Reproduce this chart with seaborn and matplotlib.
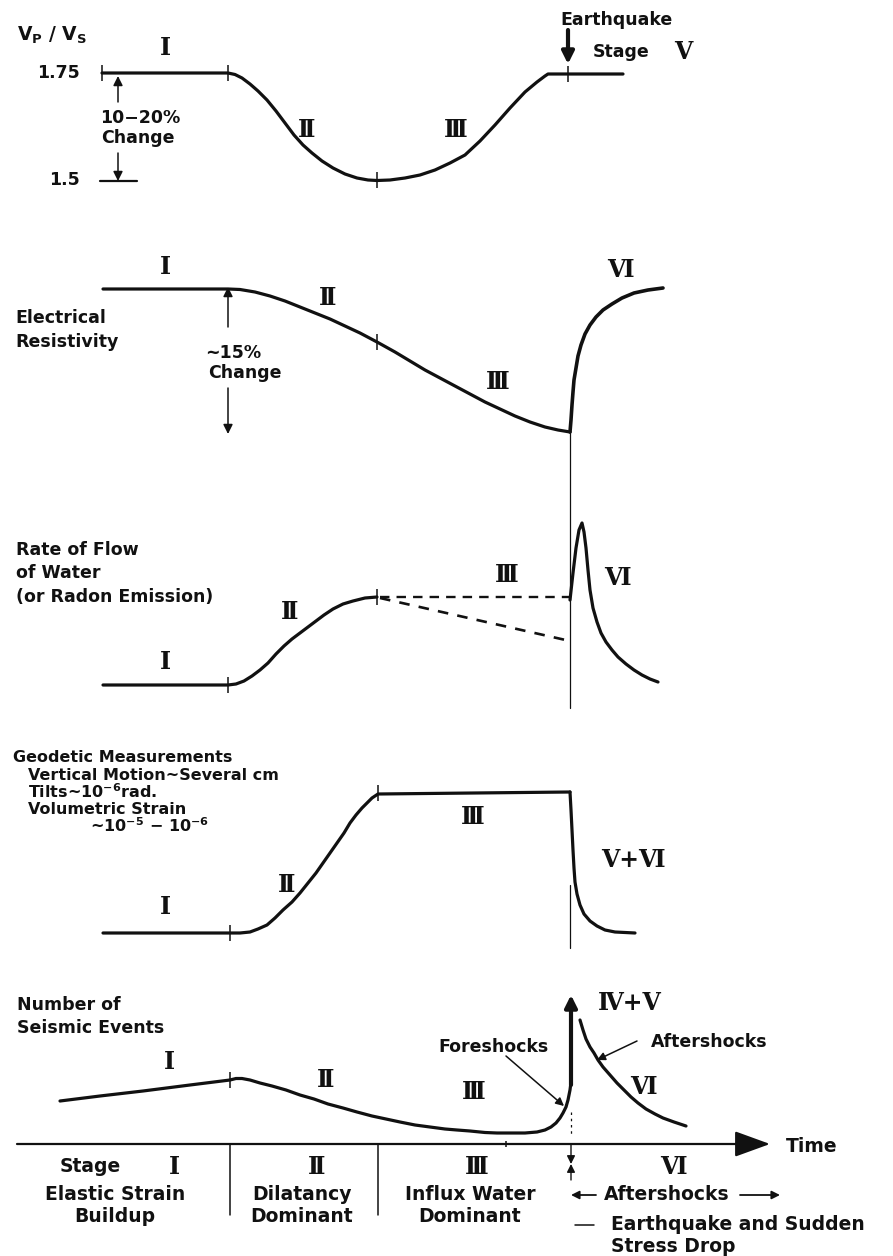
import matplotlib
matplotlib.use("Agg")
import matplotlib.pyplot as plt
import seaborn as sns

# ---------------------------------------------------------------
# Dilatancy-diffusion model: precursory changes through the
# stages of the earthquake cycle.  Time runs left to right on a
# common axis (diagram units); each curve is given in the same
# units, with larger y further down the sheet.
# ---------------------------------------------------------------

# Stage boundaries on the time axis
stage_bounds = [230, 378]
quake_t = 570

# Vp/Vs ratio
vp_t = [102, 228, 235, 242, 250, 258, 267, 276, 285, 294, 303, 312, 322, 333,
        345, 357, 368, 377, 390, 405, 420, 435, 450, 465, 480, 495, 510, 525,
        537, 545, 548, 568, 623]
vp_y = [73, 73, 74.5, 78, 84, 91, 100, 111, 123, 135, 145, 153, 161, 168,
        174, 178, 180, 180.5, 180, 178, 175, 170, 163, 155, 141, 125, 108, 92,
        82, 76, 74, 74, 74]

# Electrical resistivity
res_t = [103, 228, 240, 255, 270, 285, 300, 315, 330, 345, 360, 377, 395, 410,
         425, 440, 455, 470, 485, 500, 515, 530, 545, 558, 570]
res_y = [289, 289, 289.5, 292, 296, 301, 307, 313, 319, 326, 333, 342, 352, 361,
         370, 378, 386, 394, 402, 409, 416, 422, 427, 430, 432]
res_after_t = [570, 571, 572, 573, 574, 576, 578, 581, 585, 590, 596, 603, 612,
               622, 634, 648, 663]
res_after_y = [432, 420, 405, 392, 380, 368, 356, 345, 334, 325, 317, 310, 304,
               298, 293, 290, 288]

# Rate of flow of water (or radon emission)
flow_t = [103, 228, 236, 244, 252, 260, 268, 276, 284, 292, 300, 308, 316, 324,
          333, 343, 353, 365, 377]
flow_y = [685, 685, 684, 681, 676, 670, 663, 654, 646, 639, 633, 627, 621, 615,
          609, 604, 601, 598, 597]
flow_alt_flat_t = [380, 570]
flow_alt_flat_y = [597, 597]
flow_alt_fall_t = [380, 570]
flow_alt_fall_y = [598, 641]
flow_after_t = [570, 573, 576, 579, 582, 584, 586, 588, 590, 593, 597, 601, 606,
                612, 618, 626, 634, 642, 650, 658]
flow_after_y = [600, 573, 548, 530, 523, 532, 548, 570, 590, 608, 622, 633, 642,
                650, 657, 664, 670, 675, 679, 682]

# Geodetic measurements
geo_t = [103, 230, 240, 250, 258, 267, 275, 283, 292, 300, 308, 316, 323, 330,
         337, 344, 350, 356, 362, 367, 372, 378, 570]
geo_y = [933, 933, 933, 932, 929, 925, 918, 910, 902, 893, 883, 873, 863, 853,
         843, 833, 823, 815, 808, 803, 798, 794, 792]
geo_after_t = [570, 571, 572, 573, 574, 575, 577, 580, 584, 590, 597, 605, 615, 635]
geo_after_y = [792, 810, 830, 850, 868, 882, 894, 905, 914, 921, 926, 930, 932, 933]

# Number of seismic events
seis_t = [60, 100, 143, 190, 230, 236, 242, 250, 260, 272, 286, 300, 314, 328,
          343, 357, 372, 386, 400, 415, 430, 445, 457, 470, 485, 497, 510, 525,
          537, 545, 551, 556, 560, 563, 566, 568, 570, 571]
seis_y = [1101, 1096, 1091, 1085, 1080, 1078.5, 1078.5, 1080, 1083, 1086, 1090,
          1095, 1099, 1104, 1108, 1112, 1116, 1119, 1122, 1125, 1127, 1129, 1130,
          1131, 1132.5, 1133, 1133, 1133, 1132, 1130, 1127, 1123, 1118, 1113,
          1107, 1100, 1090, 1082]
after_t = [580, 583, 586, 590, 594, 598, 603, 610, 617, 624, 631, 638, 646, 655,
           663, 674, 686]
after_y = [1020, 1030, 1039, 1047, 1053, 1060, 1067, 1075, 1083, 1090, 1097, 1103,
           1109, 1114, 1118, 1122, 1126]

# Stage numerals placed along the curves: (t, y, numeral)
numerals = [
    (165, 48, "Ⅰ"), (307, 130, "Ⅱ"), (456, 130, "Ⅲ"),
    (165, 267, "Ⅰ"), (328, 298, "Ⅱ"), (498, 382, "Ⅲ"), (620, 270, "Ⅵ"),
    (165, 662, "Ⅰ"), (290, 612, "Ⅱ"), (507, 575, "Ⅲ"), (617, 578, "Ⅵ"),
    (165, 907, "Ⅰ"), (287, 885, "Ⅱ"), (473, 817, "Ⅲ"), (633, 860, "Ⅴ+Ⅵ"),
    (169, 1062, "Ⅰ"), (326, 1080, "Ⅱ"), (474, 1092, "Ⅲ"), (643, 1087, "Ⅵ"),
    (630, 1003, "Ⅳ+Ⅴ"),
    (174, 1167, "Ⅰ"), (317, 1167, "Ⅱ"), (477, 1167, "Ⅲ"), (673, 1167, "Ⅵ"),
    (683, 52, "Ⅴ"),
]

# Stage names under the time axis: (centre t, first line, second line)
stage_names = [
    (115, "Elastic Strain", "Buildup"),
    (302, "Dilatancy", "Dominant"),
    (470, "Influx Water", "Dominant"),
]

vpvs_ticks = ["1.75", "1.5"]

sns.set_theme(style="white")
plt.rcParams['font.family'] = ['DejaVu Sans']
plt.rcParams['font.weight'] = 'bold'
plt.rcParams['mathtext.default'] = 'regular'

fig = plt.figure(figsize=(8.93, 12.56), dpi=100)
ax = fig.add_axes([0, 0, 1, 1])
ax.set_xlim(0, 893)
ax.set_ylim(1256, 0)
ax.axis("off")

INK = "#111111"
LW = 2.3
TXT = 12.5


def curve(t, y, lw=LW, **kw):
    sns.lineplot(x=t, y=y, sort=False, estimator=None, color=INK, lw=lw,
                 ax=ax, legend=False, **kw)


def tick(t, y, h=8, lw=1.1):
    ax.plot([t, t], [y - h, y + h], color=INK, lw=lw, solid_capstyle="butt")


def arrow(tail, head, lw=1.1, scale=14, style="-|>"):
    ax.annotate("", xy=head, xytext=tail,
                arrowprops=dict(arrowstyle=style, lw=lw, color=INK,
                                mutation_scale=scale, shrinkA=0, shrinkB=0))


def label(x, y, s, ha="left", size=TXT, **kw):
    ax.text(x, y, s, ha=ha, va="center", fontsize=size, color=INK,
            fontweight="bold", **kw)


def roman(x, y, s, size=17):
    ax.text(x, y, s, ha="center", va="center", fontsize=size, color=INK,
            family=["DejaVu Serif", "DejaVu Sans"], fontweight="bold")


# ---- Vp/Vs -------------------------------------------------------
curve(vp_t, vp_y)
for t, y in [(102, 73), (228, 73), (377, 180), (568, 74)]:
    tick(t, y)
ax.plot([100, 137], [181, 181], color=INK, lw=1.6)
label(17, 35, r"V$_{P}$ / V$_{S}$", size=13.5)
label(80, 73, vpvs_ticks[0], ha="right")
label(80, 180, vpvs_ticks[1], ha="right")
arrow((118, 102), (118, 76))
arrow((118, 153), (118, 181))
label(100, 118, "10−20%")
label(101, 138, "Change")
label(560, 20, "Earthquake")
label(593, 52, "Stage")
arrow((568, 30), (568, 64), lw=3, scale=18)

# ---- Electrical resistivity ---------------------------------------
curve(res_t, res_y)
curve(res_after_t, res_after_y, lw=2.6)
tick(377, 342)
label(15, 318, "Electrical")
label(15, 342, "Resistivity")
arrow((228, 327), (228, 287))
arrow((228, 388), (228, 434))
label(205, 353, "~15%")
label(208, 373, "Change")

# ---- Rate of flow ------------------------------------------------
curve(flow_t, flow_y)
curve(flow_alt_flat_t, flow_alt_flat_y, lw=1.7, linestyle=(0, (4, 3)))
curve(flow_alt_fall_t, flow_alt_fall_y, lw=1.9, linestyle=(0, (4, 3.5)))
curve(flow_after_t, flow_after_y)
tick(228, 685)
tick(377, 597)
label(16, 550, "Rate of Flow")
label(16, 573, "of Water")
label(16, 597, "(or Radon Emission)")

# ---- Geodetic ------------------------------------------------------
curve(geo_t, geo_y)
curve(geo_after_t, geo_after_y)
tick(230, 933)
tick(378, 793)
GEO = 11.5
label(13, 757, "Geodetic Measurements", size=GEO)
label(28, 775, "Vertical Motion~Several cm", size=GEO)
label(28, 792, r"Tilts~10$^{-6}$rad.", size=GEO)
label(28, 809, "Volumetric Strain", size=GEO)
label(90, 826, r"~10$^{-5}$ − 10$^{-6}$", size=GEO)

# ---- Seismic events ----------------------------------------------
curve(seis_t, seis_y)
curve(after_t, after_y)
tick(230, 1080)
arrow((571, 1085), (571, 995), lw=3, scale=18)
label(17, 1005, "Number of")
label(17, 1028, "Seismic Events")
label(493, 1047, "Foreshocks", ha="center")
arrow((506, 1056), (564, 1106), lw=1.1, scale=12)
label(651, 1042, "Aftershocks")
arrow((637, 1041), (597, 1060), lw=1.1, scale=12)

# ---- Earthquake instant (thin vertical line) ---------------------
ax.plot([quake_t, quake_t], [432, 708], color=INK, lw=0.9)
ax.plot([quake_t, quake_t], [885, 948], color=INK, lw=0.9)
ax.plot([quake_t + 1, quake_t + 1], [1112, 1134], color=INK, lw=0.9,
        linestyle=(0, (2, 3)))

# ---- Time axis and stage table -----------------------------------
ax.annotate("", xy=(770, 1144), xytext=(17, 1144),
            arrowprops=dict(arrowstyle="-|>,head_length=1.1,head_width=0.4",
                            lw=1.6, color=INK, mutation_scale=20,
                            shrinkA=0, shrinkB=0))
label(786, 1146, "Time", size=13.5)
for t in stage_bounds:
    ax.plot([t, t], [1144, 1215], color=INK, lw=1.1)
tick(506, 1144, h=3)
arrow((571, 1144), (571, 1164), lw=1.0, scale=12)
arrow((571, 1180), (571, 1164), lw=1.0, scale=12)

label(60, 1167, "Stage", size=13.5)
for t, l1, l2 in stage_names:
    label(t, 1195, l1, ha="center", size=13.5)
    label(t, 1217, l2, ha="center", size=13.5)

label(667, 1195, "Aftershocks", ha="center", size=13.5)
arrow((596, 1195), (571, 1195), lw=1.3, scale=12)
arrow((740, 1195), (780, 1195), lw=1.3, scale=12)
ax.plot([575, 594], [1225, 1225], color=INK, lw=1.1)
label(611, 1225, "Earthquake and Sudden", size=13.5)
label(611, 1247, "Stress Drop", size=13.5)

for t, y, s in numerals:
    roman(t, y, s)

fig.savefig("out.png", dpi=100, facecolor="white")
